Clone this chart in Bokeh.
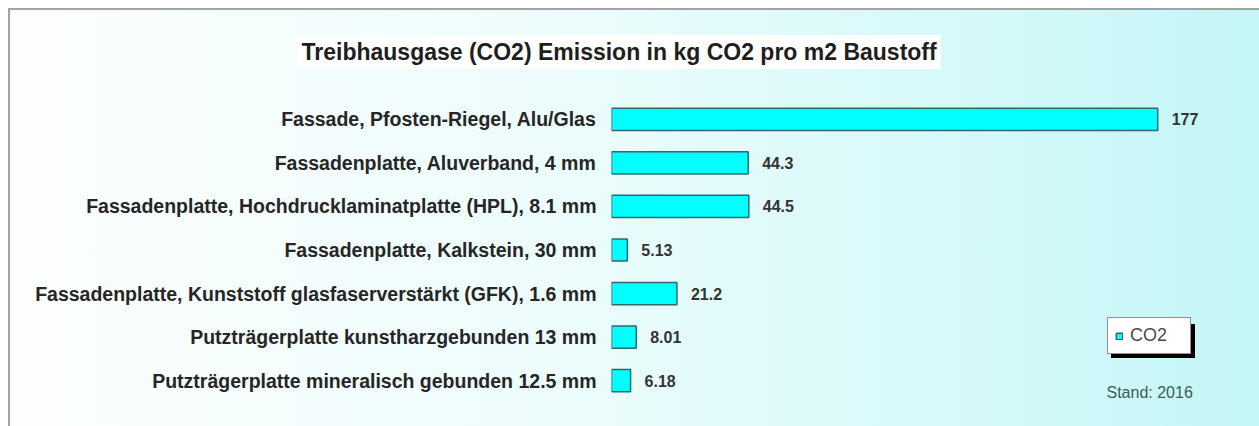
from bokeh.plotting import figure
from bokeh.models import Range1d, FactorRange, Label, Legend, LegendItem, Title
from bokeh.core.properties import value
from bokeh.embed import file_html
from bokeh.resources import INLINE

categories = [
    "Fassade, Pfosten-Riegel, Alu/Glas",
    "Fassadenplatte, Aluverband, 4 mm",
    "Fassadenplatte, Hochdrucklaminatplatte (HPL), 8.1 mm",
    "Fassadenplatte, Kalkstein, 30 mm",
    "Fassadenplatte, Kunststoff glasfaserverstärkt (GFK), 1.6 mm",
    "Putzträgerplatte kunstharzgebunden 13 mm",
    "Putzträgerplatte mineralisch gebunden 12.5 mm",
]
co2 = [177, 44.3, 44.5, 5.13, 21.2, 8.01, 6.18]
value_labels = ["177", "44.3", "44.5", "5.13", "21.2", "8.01", "6.18"]
series_name = "CO2"
title_text = "Treibhausgase (CO2) Emission in kg CO2 pro m2 Baustoff"
stand_text = "Stand: 2016"

FONT = value("Liberation Sans")

p = figure(
    width=1251, height=418,
    y_range=FactorRange(factors=list(reversed(categories)), range_padding=0),
    x_range=Range1d(0, 210.0),
    x_axis_location=None,
    output_backend="svg", toolbar_location=None,
    min_border_left=603, min_border_right=0, min_border_top=87, min_border_bottom=24,
)
p.border_fill_color = None
p.background_fill_color = None
p.outline_line_color = None
p.grid.visible = False
p.styles = {
    "margin-left": "8px",
    "margin-top": "8px",
    "background-image": "linear-gradient(to right, #fdfefe 0%, #ecfcfc 45%, #c4f6f7 100%)",
    "box-shadow": "inset 2px 2px 0 0 #a3a3a3",
}

ax = p.yaxis[0]
ax.axis_line_color = None
ax.major_tick_line_color = None
ax.minor_tick_line_color = None
ax.major_tick_in = 0
ax.major_tick_out = 0
ax.major_label_standoff = 15
ax.major_label_text_font = "Liberation Sans"
ax.major_label_text_font_style = "bold"
ax.major_label_text_font_size = "19.5px"
ax.major_label_text_color = "#262626"

bars = p.hbar(y=categories, left=0, right=co2, height=0.51,
              fill_color="#00ffff", line_color="#2b6b6b", line_width=1.5)

p.text(x=co2, y=categories, text=value_labels, x_offset=14,
       text_baseline="middle", text_align="left",
       text_font=FONT, text_font_style="bold", text_font_size="16px",
       text_color="#333333")

title = Title(text=title_text, align="left", offset=-314, standoff=53,
              vertical_align="top",
              text_font="Liberation Sans", text_font_style="bold", text_font_size="23px",
              text_color="#1e1e1e", background_fill_color="white", padding=4)
p.add_layout(title, "above")

stand = Label(x=495, y=10, x_units="screen", y_units="screen", text=stand_text,
              text_align="left", text_baseline="middle",
              text_font="Liberation Sans", text_font_size="16px", text_color="#3d5a5a")
p.add_layout(stand)

def make_legend(label, loc, bg, border):
    return Legend(
        items=[LegendItem(label=label, renderers=[bars])],
        location=loc, orientation="vertical",
        background_fill_color=bg, background_fill_alpha=1.0,
        border_line_color=border, border_line_width=1,
        padding=7, margin=0, spacing=0,
        glyph_width=8, glyph_height=8, label_standoff=7,
        label_width=53, label_height=18,
        label_text_font="Liberation Sans", label_text_font_size="18px",
        label_text_color="#4a4a4a",
    )

shadow = make_legend(" ", (500, 44), "black", "black")
legend = make_legend(series_name, (496, 48), "white", "#222222")
p.add_layout(shadow)
p.add_layout(legend)

open("out.html", "w").write(file_html(p, INLINE))
